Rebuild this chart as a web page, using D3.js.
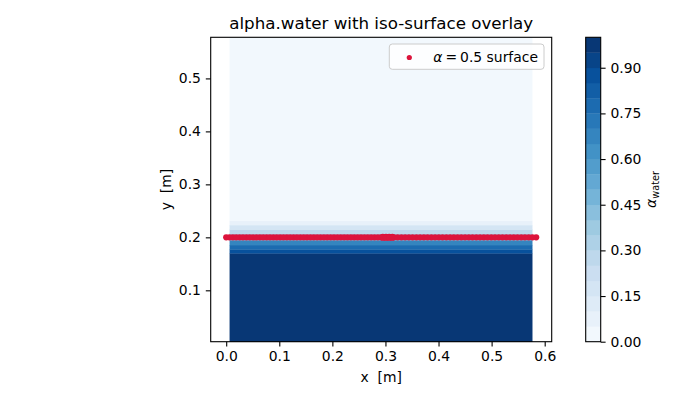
<!DOCTYPE html>
<html>
<head>
<meta charset="utf-8">
<script src="https://cdn.jsdelivr.net/npm/d3@7/dist/d3.min.js"></script>
<style>
  body { margin: 0; background: #ffffff; }
  text { font-family: "DejaVu Sans", sans-serif; fill: #000; }
</style>
</head>
<body>
<div id="chart"></div>
<script>
// alpha.water field: uniform across x, so keep it as a vertical profile of slabs
var fieldX = [0.00635, 0.577];
var slabEdges = [0.003, 0.170, 0.1775, 0.1855, 0.1936, 0.2003, 0.2075, 0.2151, 0.2232, 0.2313, 0.5776];
var slabAlpha = [0.99, 0.88, 0.78, 0.66, 0.55, 0.40, 0.27, 0.17, 0.08, 0.0];

// contour levels used for the filled field and the colorbar
var contourLevels = [0, 0.05, 0.1, 0.15, 0.2, 0.25, 0.3, 0.35, 0.4, 0.45, 0.5,
                     0.55, 0.6, 0.65, 0.7, 0.75, 0.8, 0.85, 0.9, 0.95, 1.0];
var cbarTicks = [0, 0.15, 0.3, 0.45, 0.6, 0.75, 0.9];

// alpha = 0.5 iso-surface points: mesh edge points, then cell-centre points
var isoX = [0, 0.0127, 0.0254, 0.0381, 0.0508, 0.0635, 0.0762, 0.0889, 0.1016, 0.1143,
            0.127, 0.1397, 0.1523, 0.165, 0.1777, 0.1904, 0.2031, 0.2158, 0.2285, 0.2412,
            0.2539, 0.2666, 0.2793, 0.292, 0.295, 0.298, 0.301, 0.304, 0.307, 0.310, 0.313, 0.316,
            0.295, 0.301, 0.307, 0.313,
            0.3301, 0.3442, 0.3583, 0.3724, 0.3865, 0.4006, 0.4147, 0.4288, 0.4429, 0.4571,
            0.4712, 0.4853, 0.4994, 0.5135, 0.5276, 0.5417, 0.5558, 0.5699, 0.584,
            0.0063, 0.019, 0.0317, 0.0444, 0.0571, 0.0698, 0.0825, 0.0952, 0.1079, 0.1206,
            0.1333, 0.146, 0.1587, 0.1714, 0.1841, 0.1968, 0.2095, 0.2222, 0.2349, 0.2476,
            0.2603, 0.273, 0.2857,
            0.323, 0.3371, 0.3512, 0.3653, 0.3794, 0.3935, 0.4076, 0.4218, 0.4359, 0.45,
            0.4641, 0.4782, 0.4923, 0.5064, 0.5205, 0.5346, 0.5487, 0.5628, 0.5769];
var isoY = [0.2, 0.2, 0.2, 0.2, 0.2, 0.2, 0.2, 0.2, 0.2, 0.2,
            0.2, 0.2, 0.2, 0.2, 0.2, 0.2, 0.2, 0.2, 0.2, 0.2,
            0.2, 0.2, 0.2, 0.2, 0.2008, 0.2, 0.2008, 0.2, 0.2008, 0.2, 0.2008, 0.2,
            0.1993, 0.1993, 0.1993, 0.1993,
            0.2, 0.2, 0.2, 0.2, 0.2, 0.2, 0.2, 0.2, 0.2, 0.2,
            0.2, 0.2, 0.2, 0.2, 0.2, 0.2, 0.2, 0.2, 0.2,
            0.2, 0.2, 0.2, 0.2, 0.2, 0.2, 0.2, 0.2, 0.2, 0.2,
            0.2, 0.2, 0.2, 0.2, 0.2, 0.2, 0.2, 0.2, 0.2, 0.2,
            0.2, 0.2, 0.2,
            0.2, 0.2, 0.2, 0.2, 0.2, 0.2, 0.2, 0.2, 0.2, 0.2,
            0.2, 0.2, 0.2, 0.2, 0.2, 0.2, 0.2, 0.2, 0.2];

var xTicks = [0, 0.1, 0.2, 0.3, 0.4, 0.5, 0.6];
var yTicks = [0.1, 0.2, 0.3, 0.4, 0.5];

var svgWidth = 700;
var svgHeight = 400;

var margin = { top: 37.3, left: 210.7 };
var width = 341;
var height = 304.4;

var svg = d3.select("#chart")
  .append("svg")
  .attr("width", svgWidth)
  .attr("height", svgHeight);

var chartGroup = svg.append("g")
  .attr("transform", `translate(${margin.left}, ${margin.top})`);

// matplotlib "Blues" colormap
var blues = d3.scaleLinear()
  .domain(d3.range(9).map(i => i / 8))
  .range(["#f7fbff", "#deebf7", "#c6dbef", "#9ecae1", "#6baed6",
          "#4292c6", "#2171b5", "#08519c", "#08306b"]);

function bandColor(a) {
  var k = 0;
  for (var i = 0; i < contourLevels.length - 1; i++) {
    if (a > contourLevels[i]) k = i;
  }
  return blues((contourLevels[k] + contourLevels[k + 1]) / 2);
}

// Scales
var xScale = d3.scaleLinear().domain([-0.0292, 0.6132]).range([0, width]);
var yScale = d3.scaleLinear().domain([slabEdges[0], slabEdges[slabEdges.length - 1]]).range([height, 0]);

// Filled field
var slabs = slabAlpha.map((a, i) => ({ a: a, y0: slabEdges[i], y1: slabEdges[i + 1] }));
chartGroup.selectAll("rect.slab")
  .data(slabs)
  .enter()
  .append("rect")
  .attr("class", "slab")
  .attr("x", xScale(fieldX[0]))
  .attr("width", xScale(fieldX[1]) - xScale(fieldX[0]))
  .attr("y", d => yScale(d.y1))
  .attr("height", d => yScale(d.y0) - yScale(d.y1) + 0.3)
  .attr("fill", d => bandColor(d.a));

// Iso-surface points
var isoPts = isoX.map((x, i) => ({ x: x, y: isoY[i] }));
chartGroup.selectAll("circle.iso")
  .data(isoPts)
  .enter()
  .append("circle")
  .attr("class", "iso")
  .attr("cx", d => xScale(d.x))
  .attr("cy", d => yScale(d.y))
  .attr("r", 3.1)
  .attr("fill", "#dc143c");

// Axes
var bottomAxis = d3.axisBottom(xScale).tickValues(xTicks).tickFormat(d3.format(".1f")).tickSizeOuter(0).tickSize(4.9).tickPadding(4.9);
var leftAxis = d3.axisLeft(yScale).tickValues(yTicks).tickFormat(d3.format(".1f")).tickSizeOuter(0).tickSize(4.9).tickPadding(4.9);

var gx = chartGroup.append("g").attr("transform", `translate(0, ${height})`).call(bottomAxis);
var gy = chartGroup.append("g").call(leftAxis);
[gx, gy].forEach(function(g) {
  g.select(".domain").remove();
  g.selectAll("line").attr("stroke", "#000").attr("stroke-width", 1.1);
  g.selectAll("text").attr("font-size", "13.9px").attr("fill", "#000")
    .attr("font-family", "DejaVu Sans, sans-serif");
});

// frame
chartGroup.append("rect")
  .attr("width", width)
  .attr("height", height)
  .attr("fill", "none")
  .attr("stroke", "#000")
  .attr("stroke-width", 1.1);

// Title and axes labels
svg.append("text")
  .attr("x", margin.left + width / 2)
  .attr("y", 29)
  .attr("text-anchor", "middle")
  .attr("font-size", "16.7px")
  .text("alpha.water with iso-surface overlay");

svg.append("text")
  .attr("x", margin.left + width / 2)
  .attr("y", 382)
  .attr("text-anchor", "middle")
  .attr("font-size", "13.9px")
  .style("white-space", "pre")
  .text("x  [m]");

svg.append("text")
  .attr("transform", `translate(171, ${margin.top + height / 2}) rotate(-90)`)
  .attr("text-anchor", "middle")
  .attr("font-size", "13.9px")
  .style("white-space", "pre")
  .text("y  [m]");

// Legend
var legend = svg.append("g");
legend.append("rect")
  .attr("x", 389.3).attr("y", 44)
  .attr("width", 154.7).attr("height", 25.3)
  .attr("rx", 3)
  .attr("fill", "#ffffff").attr("fill-opacity", 0.8)
  .attr("stroke", "#cccccc").attr("stroke-width", 1);
legend.append("circle")
  .attr("cx", 409.3).attr("cy", 57.5).attr("r", 2.6)
  .attr("fill", "#dc143c");
var lt = legend.append("text")
  .attr("x", 433.3).attr("y", 62.3)
  .attr("font-size", "13.9px");
lt.append("tspan").attr("font-style", "italic").text("α");
lt.append("tspan").attr("dx", 3).text("=");
lt.append("tspan").attr("dx", 3).text("0.5");
lt.append("tspan").attr("dx", 4.4).text("surface");

// Colorbar
var cbar = { x: 585.7, w: 15 };
var cScale = d3.scaleLinear().domain([0, 1]).range([margin.top + height, margin.top]);
var cbands = contourLevels.slice(0, -1).map((l, i) => ({ lo: l, hi: contourLevels[i + 1] }));
svg.selectAll("rect.cband")
  .data(cbands)
  .enter()
  .append("rect")
  .attr("class", "cband")
  .attr("x", cbar.x)
  .attr("width", cbar.w)
  .attr("y", d => cScale(d.hi))
  .attr("height", d => cScale(d.lo) - cScale(d.hi) + 0.3)
  .attr("fill", d => blues((d.lo + d.hi) / 2));

svg.append("rect")
  .attr("x", cbar.x).attr("y", cScale(1))
  .attr("width", cbar.w).attr("height", cScale(0) - cScale(1))
  .attr("fill", "none").attr("stroke", "#000").attr("stroke-width", 1.1);

var cAxis = d3.axisRight(cScale).tickValues(cbarTicks).tickFormat(d3.format(".2f")).tickSize(4.9).tickPadding(4.9);
var gc = svg.append("g").attr("transform", `translate(${cbar.x + cbar.w}, 0)`).call(cAxis);
gc.select(".domain").remove();
gc.selectAll("line").attr("stroke", "#000").attr("stroke-width", 1.1);
gc.selectAll("text").attr("font-size", "13.9px").attr("fill", "#000")
  .attr("font-family", "DejaVu Sans, sans-serif");

var cl = svg.append("text")
  .attr("transform", `translate(656, ${margin.top + height / 2}) rotate(-90)`)
  .attr("text-anchor", "middle")
  .attr("font-size", "13.9px");
cl.append("tspan").attr("font-style", "italic").text("α");
cl.append("tspan").attr("font-size", "9.7px").attr("dy", 3).text("water");
</script>
</body>
</html>
